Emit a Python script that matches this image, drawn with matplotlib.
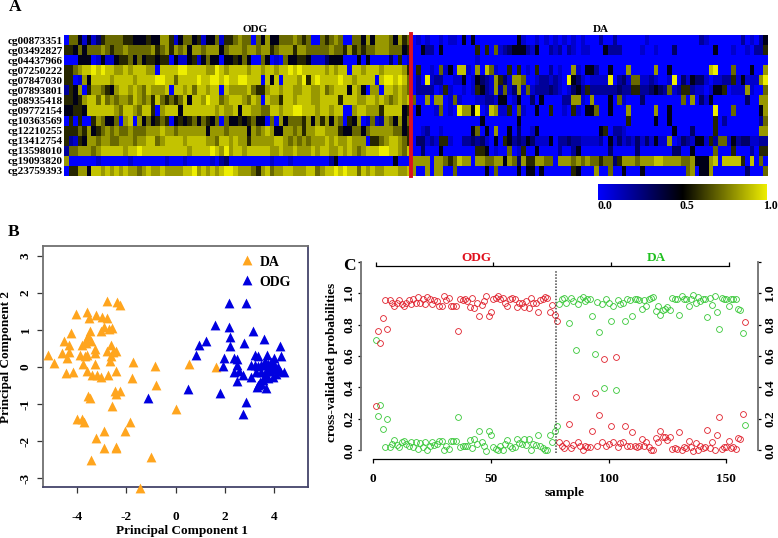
import numpy as np
import matplotlib
matplotlib.use("Agg")
import matplotlib.pyplot as plt
from matplotlib.colors import LinearSegmentedColormap

plt.rcParams["font.family"] = ["Liberation Serif", "DejaVu Serif"]
plt.rcParams["font.weight"] = "bold"
plt.rcParams["axes.unicode_minus"] = False

W, H = 778, 538

GENES = ["cg00873351", "cg03492827", "cg04437966", "cg07250222", "cg07847030", "cg07893801", "cg08935418",
         "cg09772154", "cg10363569", "cg12210255", "cg13412754", "cg13598010", "cg19093820", "cg23759393"]

# methylation level per cell, one digit = index into LEVELS
LEVELS = [0.0, 0.1, 0.2, 0.3, 0.45, 0.58, 0.72, 0.82, 0.91, 1.0]
HEAT_ODG = [
    "0664141356 6665544454 4775146645 14461556 7660647446 6676560065 6760066474 77764756",
    "5546466676 5667666667 5675767477 67774677 7677677567 7757766666 7665756566 77766645",
    "0004440141 1455646455 4550411451 46440445 4640064010 6445541113 4440004040 00030501",
    "5567889898 8778788877 0888899888 87798788 8878878878 8989888887 8788088788 87888875",
    "5501748888 7888878888 9988688889 88998988 9988808480 8887958988 8898878888 08998986",
    "2547057765 4788787687 7780887868 87880877 7786557887 8877887786 7888487407 70887876",
    "5545788686 7677687675 8656568488 79886788 8768708775 8878887788 8858887788 78767878",
    "4455488888 8768876885 0788848888 88878778 4887766887 8899888788 7880078877 75888845",
    "0505005764 4607807464 5650454564 65460644 5456440607 4666574757 4760547016 12764746",
    "5556574567 6766766677 7877677777 74777677 7747678744 7767577887 7754466467 77776645",
    "5215477677 6677767788 6788887888 87768878 7757777788 7676767778 7877877705 56788765",
    "2667776788 8887889888 8888888788 88987978 8788888778 7787778788 7787876788 89988768",
    "7000000100 0000100000 0010001000 00102300 0000000100 0100000000 2400000000 00004000",
    "0557748878 7878776787 7877778897 87878998 7776578677 8877788678 8989886878 77888778",
]
HEAT_DA = [
    "0101001011 0404000000 0004100101 010101010 0020020000 0010000000 0000210000 000201024",
    "0042204000 0000505061 2344421400 212021011 0004222000 0100100030 0000000400 010010225",
    "0000000000 0000100000 0000000000 000000000 0000000000 0000000000 0000000000 000000000",
    "0500106140 8810708610 0505010500 201007104 4200400070 0000700400 0000008900 060004007",
    "0209122001 1401432175 3177600122 121094310 1111902316 6112100190 3143310112 251411179",
    "0222201510 0101542172 6137161222 321013425 2222223225 5223432612 5521101445 011171006",
    "6007077016 1000112214 4014003040 000227710 7000406100 0300000000 6070314000 000030077",
    "0400016010 9774901871 1506100400 500105104 4600400070 0000700400 0000000900 060000047",
    "0000000000 0000040000 0004000000 000000000 0000000050 0000400400 0000000502 000000026",
    "0012001000 0004604070 0403001400 000000000 0045022100 0000000040 0030000500 000000077",
    "0331215510 0223231040 5423243111 402232211 1120413121 3131411701 3214415266 142331122",
    "0030004000 0000554010 0601500400 002002400 0000300000 3000000033 0040000600 050002055",
    "7777077656 8770776677 4763755776 607776767 6656635777 6777887777 6674447808 888508060",
    "7007077006 0000004060 0004044040 000005400 0700600400 0400000000 0670447000 000030006",
]

DA_PC1 = [-5.18, -4.95, -4.62, -4.54, -4.23, -4.05, -4.31, -4.32, -4.41, -4.45, -4.16, -3.59, -3.51, -3.22, -2.77,
          -2.39, -2.27, -2.97, -2.77, -3.49, -3.55, -3.65, -3.42, -3.78, -3.62, -3.01, -2.92, -2.70, -2.57, -2.64,
          -3.26, -3.28, -3.89, -3.69, -3.59, -3.76, -3.28, -2.78, -2.54, -2.41, -2.64, -2.68, -3.59, -3.38, -3.18,
          -3.04, -2.74, -2.43, -1.73, -1.77, -0.82, -0.81, -2.47, -2.41, -2.24, -3.55, -3.46, -2.58, -4.00, -3.78,
          -3.72, -1.86, -2.07, -2.92, -3.22, -2.91, -2.41, -2.41, -3.42, -0.99, -1.43, 0.03, 0.54, 1.65]
DA_PC2 = [0.31, 0.11, 0.37, 0.69, 0.91, 1.43, 0.58, 0.40, 0.23, -0.17, -0.15, 1.49, 1.32, 1.41, 1.77,
          1.76, 1.67, 1.34, 1.31, 0.96, 0.84, 0.73, 0.71, 0.60, 0.64, 0.98, 1.07, 1.02, 1.04, 0.60,
          0.49, 0.37, 0.31, 0.28, 0.31, 0.08, 0.08, 0.44, 0.40, 0.42, 0.28, 0.15, -0.10, -0.23, -0.21,
          -0.26, -0.23, -0.10, 0.14, -0.30, 0.02, -0.49, -0.66, -0.73, -0.64, -0.79, -0.84, -1.06, -1.41, -1.40,
          -1.48, -1.50, -1.72, -1.73, -1.91, -2.20, -2.17, -2.19, -2.52, -2.43, -3.27, -1.14, 0.07, 0.01]
ODG_PC1 = [2.15, 2.86, 1.59, 2.18, 2.19, 1.23, 0.93, 2.19, 0.82, 1.96, 1.92, 2.77, 3.14, 3.58, 4.23, 4.28, 2.36, 2.50,
           2.50, 2.36, 2.57, 2.73, 2.50, 3.05, 0.50, 1.82, -1.12, 2.84, 2.72, 3.34, 3.66, 3.24, 3.34, 3.72, 4.01, 4.38,
           3.07, 3.20, 3.34, 3.47, 3.61, 3.74, 3.88, 4.01, 4.15, 4.22, 4.08, 3.95, 3.74, 3.61, 3.54, 3.41, 3.81, 3.68,
           3.47, 3.27, 4.01, 3.88, 3.61, 3.47, 3.30]
ODG_PC2 = [1.73, 1.72, 1.12, 1.08, 0.80, 0.71, 0.59, 0.56, 0.31, 0.23, 0.02, 0.64, 0.98, 0.75, 0.55, 0.28, 0.24, 0.20,
           0.04, -0.14, -0.10, -0.21, -0.39, -0.28, -0.59, -0.70, -0.84, -0.95, -1.27, -0.50, -0.57, 0.31, 0.29, 0.31, 0.24, -0.14,
           0.04, 0.06, 0.02, 0.06, 0.04, 0.08, 0.13, 0.08, 0.01, -0.10, -0.19, -0.28, -0.30, -0.23, -0.35, -0.41, -0.10, -0.10,
           -0.14, -0.14, -0.05, -0.01, 0.15, -0.46, -0.55]

RED_ODG = [.28, .76, .68, .84, .955, .77, .955, .935, .915, .94, .955, .93, .915, .94, .955, .93, .96, .935, .975, .935,
           .965, .93, .975, .965, .93, .955, .95, .92, .92, .98, .955, .97, .915, .92, .915, .76, .965, .955, .96, .95,
           .91, .97, .905, .94, .855, .925, .95, .98, .855, .88, .965, .97, .98, .965, .97, .94, .915, .96, .97, .965,
           .91, .935, .94, .91, .95, .905, .97, .94, .94, .88, .955, .965, .975, .97, .88, .925, .86, .82]
GREEN_ODG = [.70, .22, .29, .135, .02, .20, .02, .04, .065, .035, .02, .055, .06, .04, .025, .055, .02, .05, .01, .045,
             .02, .055, .005, .025, .05, .035, .04, .06, .06, 0, .025, .01, .06, .06, .06, .215, .02, .025, .025, .03,
             .065, .015, .075, .04, .125, .055, .025, -.005, .12, .095, .02, .01, .005, .025, .005, .04, .065, .025, .015, .02,
             .07, .045, .04, .07, .035, .075, .005, .04, .035, .095, .025, .015, .005, .005, .095, .055, .12, .155]
RED_DA = [.05, .03, .015, .045, .165, .015, .035, .34, .05, .03, .005, .03, .02, .02, .12, .365, .03, .225, .05, .58,
          .025, .04, .155, .055, .595, .02, .045, .05, .155, .025, .03, .115, .025, .02, .025, .07, .025, .055, .02, .005,
          .005, .08, .055, .12, .085, .085, .065, .085, .01, .015, .01, .115, .005, .02, .015, .06, .02, -.005, .045, .005,
          .03, .015, .02, .13, .015, .05, 0, .10, .21, .01, .02, .02, .06, .015, .02, .01, .08, .075, .23, .815]
GREEN_DA = [.93, .96, .97, .935, .81, .97, .95, .64, .93, .96, .975, .95, .96, .965, .855, .61, .945, .755, .93, .395,
            .96, .94, .82, .92, .385, .955, .93, .935, .825, .96, .955, .855, .96, .96, .955, .90, .955, .92, .965, .97,
            .975, .885, .915, .86, .89, .90, .91, .89, .97, .96, .965, .86, .98, .96, .965, .915, .965, .99, .935, .975,
            .95, .965, .96, .845, .97, .925, .98, .88, .77, .97, .96, .96, .915, .965, .96, .965, .90, .895, .745, .16]

ORANGE = "#ffa51e"
RED = "#e0202c"
GREEN = "#38c838"
GREY = "#707070"


def axes_px(fig, left, top, right, bottom):
    return fig.add_axes([left / W, 1 - bottom / H, (right - left) / W, (bottom - top) / H])


def label_px(fig, x, y, s, **kw):
    fig.text(x / W, 1 - y / H, s, ha=kw.pop("ha", "center"), va=kw.pop("va", "center"), **kw)


def to_matrix(rows):
    return np.array([[LEVELS[int(c)] for c in r.replace(" ", "")] for r in rows])


fig = plt.figure(figsize=(W / 100, H / 100), dpi=100)
cmap = LinearSegmentedColormap.from_list("byg", ["#0000ff", "#000000", "#eeee00"])

# panel A
ax = axes_px(fig, 64, 35, 768, 176)
heat = np.hstack([to_matrix(HEAT_ODG), to_matrix(HEAT_DA)])
ax.imshow(heat, cmap=cmap, vmin=0, vmax=1, aspect="auto", interpolation="nearest")
n_odg = to_matrix(HEAT_ODG).shape[1]
ax.axvline(n_odg - 0.5, color="#dc1020", lw=2.8, ymin=0, ymax=1.01, clip_on=False)
ax.set_yticks(range(len(GENES)))
ax.set_yticklabels(GENES, fontsize=8)
ax.set_xticks([])
ax.tick_params(axis="y", length=0, pad=1)
for s in ax.spines.values():
    s.set_visible(False)
label_px(fig, 255, 29, "ODG", fontsize=8)
label_px(fig, 601, 29, "DA", fontsize=8)

cax = axes_px(fig, 598, 184, 767, 200)
cax.imshow(np.linspace(0, 1, 256)[None, :], cmap=cmap, aspect="auto", extent=[0, 1, 0, 1])
cax.set_xticks([])
cax.set_yticks([])
for s in cax.spines.values():
    s.set_visible(False)
label_px(fig, 604.5, 206, "0.0", fontsize=8.5)
label_px(fig, 686.5, 206, "0.5", fontsize=8.5)
label_px(fig, 770, 206, "1.0", fontsize=8.5)

# panel B
ax = axes_px(fig, 43, 246, 308, 487)
ax.scatter(DA_PC1, DA_PC2, marker="^", s=50, color=ORANGE, lw=0, clip_on=False, label="DA", zorder=3)
ax.scatter(ODG_PC1, ODG_PC2, marker="^", s=50, color="#0000e0", lw=0, clip_on=False, label="ODG", zorder=3)
ax.set_xlim(-5.38, 5.37)
ax.set_ylim(-3.24, 3.26)
ax.set_xticks([-4, -2, 0, 2, 4])
ax.set_yticks([-3, -2, -1, 0, 1, 2, 3])
ax.tick_params(axis="both", length=4, width=0.9, labelsize=9.5, color="#333333")
ax.tick_params(axis="x", pad=13)
ax.tick_params(axis="y", pad=4)
for t in ax.get_yticklabels():
    t.set_rotation(90)
    t.set_va("center")
for s in ax.spines.values():
    s.set_color(GREY)
    s.set_linewidth(1.3)
ax.spines["bottom"].set_color("#44446a")
ax.spines["right"].set_color("#44446a")
ax.legend(loc="upper right", bbox_to_anchor=(0.936, 0.96), frameon=False, fontsize=10, handletextpad=-0.1,
          labelspacing=0.55, borderpad=0, borderaxespad=0, scatteryoffsets=[0.6])
label_px(fig, 182, 531, "Principal Component 1", fontsize=9.5)
label_px(fig, 6, 357, "Principal Component 2", fontsize=9.5, rotation=90)

# panel C
samples_odg = np.arange(1, len(RED_ODG) + 1)
samples_da = np.arange(len(RED_ODG) + 1, len(RED_ODG) + len(RED_DA) + 1)
ax = axes_px(fig, 361, 261, 758.3, 459)
ax.set_xlim(-5.23, 163.6)
ax.set_ylim(-0.055, 1.204)
for x, red, green in [(samples_odg, RED_ODG, GREEN_ODG), (samples_da, RED_DA, GREEN_DA)]:
    ax.plot(x, green, "o", ms=4.2, mfc="none", mec=GREEN, mew=0.6, clip_on=False)
    ax.plot(x, red, "o", ms=4.2, mfc="none", mec=RED, mew=0.6, clip_on=False)
ax.vlines(77.5, -0.02, 1.148, color="#444444", lw=1.1, linestyles=(0, (1, 1)))
ax.spines["top"].set_visible(False)
ax.spines["left"].set_bounds(0, 1.2)
ax.spines["right"].set_bounds(0, 1.2)
ax.spines["left"].set_color(GREY)
ax.spines["right"].set_color(GREY)
ax.spines["left"].set_linewidth(1.3)
ax.spines["right"].set_linewidth(1.3)
ax.spines["bottom"].set_bounds(0, 150)
ax.spines["bottom"].set_linewidth(0.9)
ax.set_xticks([0, 50, 100, 150])
ax.set_yticks([0, 0.2, 0.4, 0.6, 0.8, 1.0, 1.2])
ax.set_yticklabels(["0.0", "0.2", "0.4", "0.6", "0.8", "1.0", ""], rotation=90, va="center")
ax.tick_params(axis="both", length=2.2, width=0.9, labelsize=9.5)
ax.tick_params(axis="x", length=3, pad=7)
ax.tick_params(axis="y", pad=2)

right = ax.secondary_yaxis("right")
right.set_yticks([0, 0.2, 0.4, 0.6, 0.8, 1.0, 1.2])
right.set_yticklabels(["0.0", "0.2", "0.4", "0.6", "0.8", "1.0", ""], rotation=90, va="center", fontsize=9.5)
right.tick_params(length=2.2, width=0.9, pad=2)
right.spines["right"].set_visible(False)

top = ax.secondary_xaxis(0.9746)
top.set_xticks([1, 51, 101, 151])
top.set_xticklabels([])
top.tick_params(length=3, width=0.9, direction="out")
top.spines["top"].set_bounds(1, 151)
top.spines["top"].set_linewidth(0.9)

label_px(fig, 476, 258, "ODG", fontsize=9.5, color="#e0101c")
label_px(fig, 656, 258, "DA", fontsize=9.5, color="#20c020")
label_px(fig, 565, 493, "sample", fontsize=9.5)
label_px(fig, 332, 362, "cross-validated probabilities", fontsize=9.5, rotation=90)

# panel letters
label_px(fig, 15, 7, "A", fontsize=12.5)
label_px(fig, 14, 232, "B", fontsize=12.5)
label_px(fig, 349, 266, "C", fontsize=12.5)

fig.savefig("out.png", dpi=100)
